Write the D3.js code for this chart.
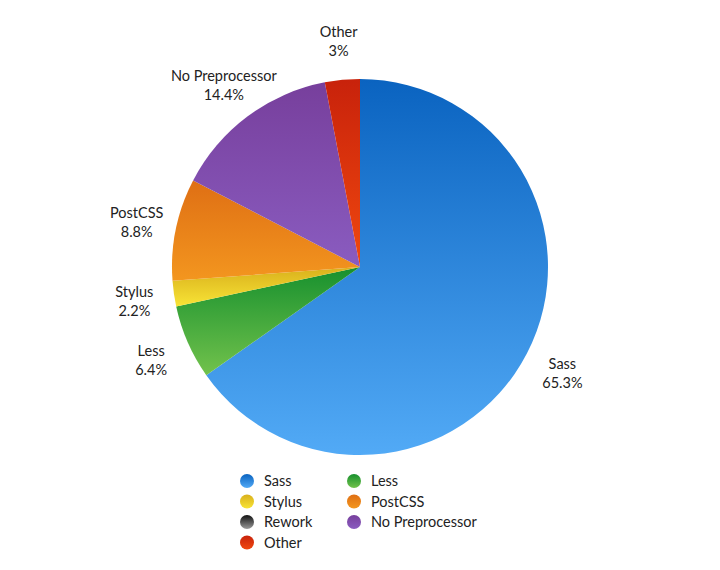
<!DOCTYPE html>
<html>
<head>
<meta charset="utf-8">
<script src="https://cdn.jsdelivr.net/npm/d3@7"></script>
<style>
  body { margin: 0; background: #fff; }
  text { font-family: Lato, "Open Sans", sans-serif; fill: #222; }
</style>
</head>
<body>
<svg id="pie-chart"></svg>
<script>
const categories = ["Sass", "Less", "Stylus", "PostCSS", "Rework", "No Preprocessor", "Other"];
const shares = [65.3, 6.4, 2.2, 8.8, 0, 14.4, 3];
const shareLabels = ["65.3%", "6.4%", "2.2%", "8.8%", "0%", "14.4%", "3%"];
// gradient stops: top colour, bottom colour
const topColors = ["#0a63c0", "#17902e", "#d9b01c", "#df6f14", "#111111", "#773f9c", "#c8220b"];
const bottomColors = ["#52aaf6", "#72c24c", "#f8e436", "#f3961f", "#9a9a9a", "#8a5cc0", "#f0480f"];

const chartWidth = 720, chartHeight = 570;
const cx = 360, cy = 267, radius = 188, labelRadius = 228;

const svg = d3.select("#pie-chart")
    .attr("width", chartWidth)
    .attr("height", chartHeight);

const defs = svg.append("defs");
categories.forEach((name, i) => {
    let grad = defs.append("linearGradient")
        .attr("id", "grad" + i)
        .attr("x1", 0).attr("y1", 0)
        .attr("x2", 0).attr("y2", 1);
    grad.append("stop").attr("offset", "0%").attr("stop-color", topColors[i]);
    grad.append("stop").attr("offset", "100%").attr("stop-color", bottomColors[i]);
});

const slices = categories.map((name, i) => ({ name: name, value: shares[i], label: shareLabels[i], index: i }));

const pie = d3.pie()
    .value(d => d.value)
    .sort(null);

const arc = d3.arc()
    .innerRadius(0)
    .outerRadius(radius);

const labelArc = d3.arc()
    .innerRadius(labelRadius)
    .outerRadius(labelRadius);

const arcs = pie(slices).filter(d => d.data.value > 0);

const chart = svg.append("g")
    .attr("transform", `translate(${cx},${cy})`);

chart.selectAll(".slice")
    .data(arcs)
    .enter()
    .append("path")
        .classed("slice", true)
        .attr("d", arc)
        .attr("fill", d => `url(#grad${d.data.index})`);

let labels = chart.selectAll(".slice-label")
    .data(arcs)
    .enter()
    .append("text")
        .classed("slice-label", true)
        .attr("transform", d => `translate(${labelArc.centroid(d)})`)
        .attr("text-anchor", "middle")
        .attr("font-size", "14.5px");

labels.append("tspan")
    .attr("x", 0)
    .attr("dy", "-0.2em")
    .text(d => d.data.name);

labels.append("tspan")
    .attr("x", 0)
    .attr("dy", "1.32em")
    .text(d => d.data.label);

// legend, two columns filled row by row
const legendX = d3.scaleOrdinal().domain([0, 1]).range([247, 354]);
const legendY = d3.scaleLinear().domain([0, 1]).range([481, 501.5]);

let legend = svg.selectAll(".legend-item")
    .data(slices)
    .enter()
    .append("g")
        .classed("legend-item", true)
        .attr("transform", d => `translate(${legendX(d.index % 2)},${legendY(Math.floor(d.index / 2))})`);

legend.append("circle")
    .attr("r", 7)
    .attr("fill", d => `url(#grad${d.index})`);

legend.append("text")
    .attr("x", 17)
    .attr("dy", "0.36em")
    .attr("font-size", "14.5px")
    .text(d => d.name);
</script>
</body>
</html>
